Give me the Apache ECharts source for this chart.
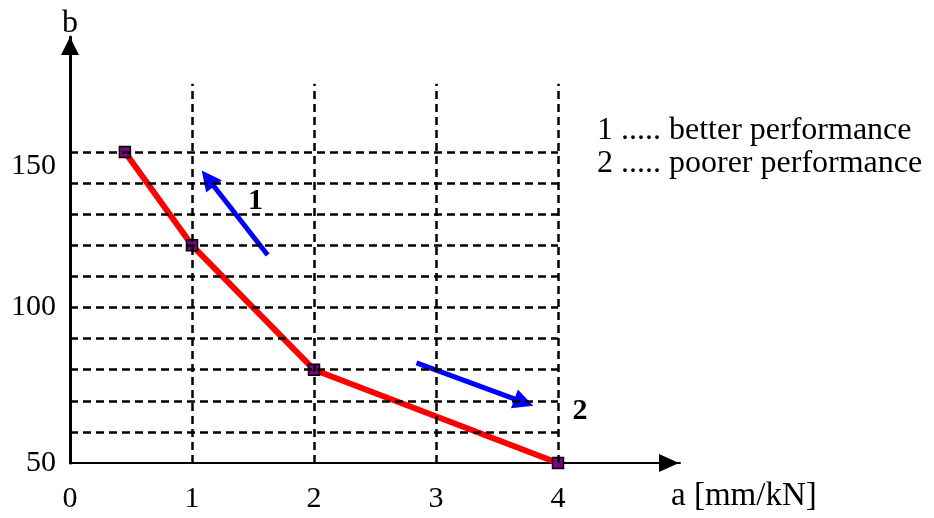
<!DOCTYPE html>
<html>
<head>
<meta charset="utf-8">
<script src="https://cdn.jsdelivr.net/npm/echarts@6/dist/echarts.min.js"></script>
<style>
  html, body { margin: 0; padding: 0; background: #fff; }
  #main { width: 934px; height: 518px; }
</style>
</head>
<body>
<div id="main"></div>
<script>
// data
var curvePoints = [[0.45, 150], [1, 120], [2, 80], [4, 50]];
var xTicks = [0, 1, 2, 3, 4];
var yTicks = [50, 100, 150];
var gridX = [1, 2, 3, 4];
var gridY = [60, 70, 80, 90, 100, 110, 120, 130, 140, 150];
var gridTop = 172;
var arrow1 = [[1.62, 116.9], [1.13, 141.5]];
var arrow2 = [[2.84, 82.2], [3.72, 69.5]];
var arrowLabels = [
  { name: '1', value: [1.52, 134.2] },
  { name: '2', value: [4.18, 66.7] }
];
var legendLines = ['1 ..... better performance', '2 ..... poorer performance'];

var serif = 'Liberation Serif';
var myChart = echarts.init(document.getElementById('main'));

// dashed grid made of markLines
var gridLines = [];
for (var i = 0; i < gridX.length; i++) {
  gridLines.push([{ coord: [gridX[i], 50] }, { coord: [gridX[i], gridTop] }]);
}
for (var j = 0; j < gridY.length; j++) {
  gridLines.push([{ coord: [0, gridY[j]] }, { coord: [4, gridY[j]] }]);
}

myChart.setOption({
  animation: false,
  grid: { left: 70, right: 254, top: 37, bottom: 55 },
  xAxis: {
    type: 'value',
    min: 0,
    max: 5,
    interval: 1,
    splitLine: { show: false },
    axisTick: { show: false },
    axisLine: {
      onZero: false,
      symbol: ['none', 'triangle'],
      symbolSize: [18, 20],
      symbolOffset: [0, -11],
      lineStyle: { color: '#000', width: 2 }
    },
    axisLabel: {
      margin: 21,
      color: '#000',
      fontFamily: serif,
      fontSize: 30,
      formatter: function (v) { return xTicks.indexOf(v) >= 0 ? String(v) : ''; }
    }
  },
  yAxis: {
    type: 'value',
    min: 50,
    max: 187,
    interval: 50,
    name: 'b',
    nameGap: -3,
    nameTextStyle: { color: '#000', fontFamily: serif, fontSize: 32, align: 'center' },
    splitLine: { show: false },
    axisTick: { show: false },
    axisLine: {
      symbol: ['none', 'triangle'],
      symbolSize: [18, 18],
      symbolOffset: [0, -9],
      lineStyle: { color: '#000', width: 3 }
    },
    axisLabel: {
      margin: 14,
      color: '#000',
      fontFamily: serif,
      fontSize: 30,
      formatter: function (v) {
        if (yTicks.indexOf(v) < 0) return '';
        return v === 150 ? '{low|' + v + '}' : String(v);
      },
      rich: {
        low: { padding: [28, 0, 0, 0], color: '#000', fontFamily: serif, fontSize: 30 }
      }
    }
  },
  graphic: [
    { type: 'text', left: 597, top: 115, style: { text: legendLines[0], fill: '#000', font: '32px "Liberation Serif"' } },
    { type: 'text', left: 597, top: 148, style: { text: legendLines[1], fill: '#000', font: '32px "Liberation Serif"' } },
    { type: 'text', left: 671, top: 480, style: { text: 'a [mm/kN]', fill: '#000', font: '33px "Liberation Serif"' } }
  ],
  series: [
    {
      type: 'line',
      data: [],
      silent: true,
      z: 1,
      markLine: {
        silent: true,
        symbol: ['none', 'none'],
        label: { show: false },
        lineStyle: { color: '#000', width: 2.5, type: [8, 5] },
        emphasis: { disabled: true },
        data: gridLines
      }
    },
    {
      type: 'line',
      data: curvePoints,
      z: 3,
      symbol: 'rect',
      symbolSize: 11,
      showSymbol: true,
      lineStyle: { color: '#ff0000', width: 6 },
      itemStyle: { color: '#800080', borderColor: '#000', borderWidth: 1.5 }
    },
    {
      type: 'lines',
      coordinateSystem: 'cartesian2d',
      z: 4,
      symbol: ['none', 'triangle'],
      symbolSize: 20,
      lineStyle: { color: '#0000ff', width: 5, opacity: 1 },
      data: [{ coords: arrow1 }, { coords: arrow2 }]
    },
    {
      type: 'scatter',
      symbolSize: 0,
      z: 5,
      data: arrowLabels,
      label: {
        show: true,
        position: 'inside',
        formatter: '{b}',
        color: '#000',
        opacity: 1,
        fontFamily: serif,
        fontWeight: 'bold',
        fontSize: 30
      }
    }
  ]
});
</script>
</body>
</html>
